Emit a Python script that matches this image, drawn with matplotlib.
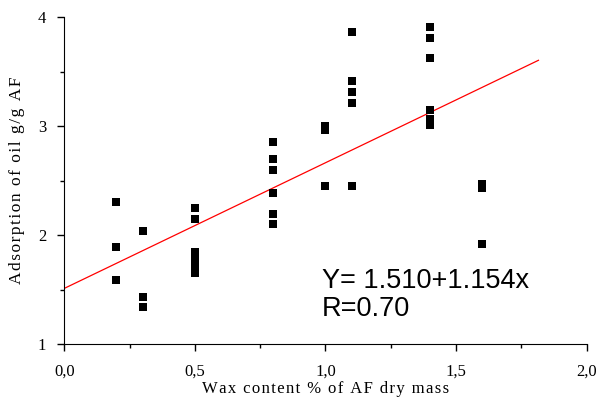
import matplotlib
matplotlib.use('Agg')
import matplotlib.pyplot as plt
from matplotlib.ticker import MultipleLocator, FuncFormatter

# wax content (% of AF dry mass) and oil adsorption (g/g AF)
wax = [0.2, 0.2, 0.2,
       0.3, 0.3, 0.3,
       0.5, 0.5, 0.5, 0.5, 0.5, 0.5, 0.5, 0.5,
       0.8, 0.8, 0.8, 0.8, 0.8, 0.8,
       1.0, 1.0, 1.0,
       1.1, 1.1, 1.1, 1.1, 1.1,
       1.4, 1.4, 1.4, 1.4, 1.4, 1.4, 1.4,
       1.6, 1.6, 1.6]
oil = [2.30, 1.89, 1.59,
       2.04, 1.43, 1.34,
       2.25, 2.15, 1.84, 1.80, 1.76, 1.72, 1.68, 1.65,
       2.85, 2.70, 2.60, 2.39, 2.19, 2.10,
       3.00, 2.96, 2.45,
       3.86, 3.41, 3.31, 3.21, 2.45,
       3.91, 3.81, 3.63, 3.15, 3.07, 3.04, 3.01,
       2.47, 2.43, 1.92]

intercept = 1.510
slope = 1.154
fit_x = [0.0, 1.815]


def spaced(s):
    # loose letter spacing like the original
    return '\u200a'.join(s)


fig = plt.figure(figsize=(6, 4), dpi=100)
ax = fig.add_axes([0.107, 0.14, 0.871, 0.817])

ax.scatter(wax, oil, marker='s', s=36, c='black', linewidths=0, zorder=3)
ax.plot(fit_x, [intercept + slope * v for v in fit_x], color='red', lw=0.9, zorder=2)

ax.set_xlim(0, 2.0)
ax.set_ylim(1, 4)
ax.spines['top'].set_visible(False)
ax.spines['right'].set_visible(False)

ax.xaxis.set_major_locator(MultipleLocator(0.5))
ax.xaxis.set_minor_locator(MultipleLocator(0.25))
ax.yaxis.set_major_locator(MultipleLocator(1))
ax.yaxis.set_minor_locator(MultipleLocator(0.5))
ax.xaxis.set_major_formatter(FuncFormatter(lambda v, p: f'{v:.1f}'.replace('.', ',')))
ax.yaxis.set_major_formatter(FuncFormatter(lambda v, p: f'{v:.0f}'))
ax.tick_params(which='major', direction='out', length=5, width=1)
ax.tick_params(which='minor', direction='out', length=3, width=1)
ax.tick_params(axis='x', which='major', pad=9)
ax.tick_params(axis='y', which='major', pad=8)

for lbl in ax.get_xticklabels() + ax.get_yticklabels():
    lbl.set_family('Liberation Serif')
    lbl.set_fontsize(12)

ax.set_xlabel(spaced('Wax content % of AF dry mass'),
              family='Liberation Serif', fontsize=12, labelpad=1)
ax.set_ylabel(spaced('Adsorption of oil g/g AF'), family='Liberation Serif',
              fontsize=12.5, labelpad=9)

ax.text(0.987, 1.45, 'Y= 1.510+1.154x\nR=0.70', family='Liberation Sans', fontsize=19.5,
        va='center', ha='left', linespacing=1.1)

fig.savefig('out.png', dpi=100)
